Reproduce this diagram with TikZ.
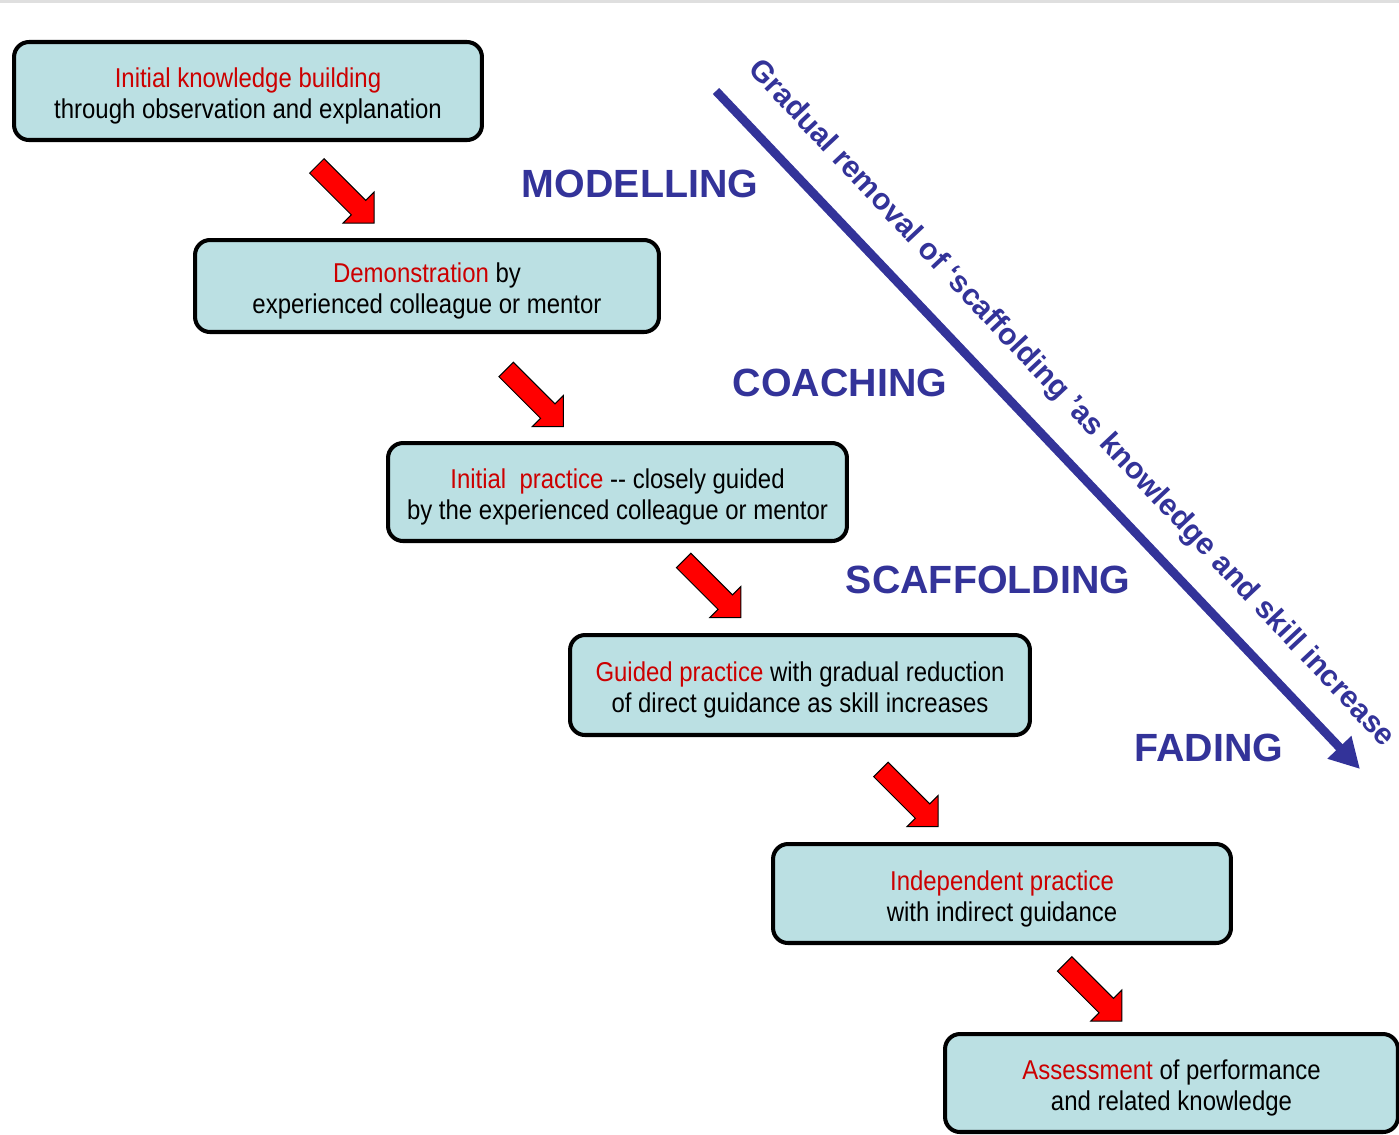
\documentclass[tikz,border=0pt]{standalone}
\usepackage{fontspec}
\setmainfont{Liberation Sans}
\newfontfamily\narrowfont[FakeStretch=0.88]{Liberation Sans}
\usetikzlibrary{arrows.meta, calc}

\definecolor{boxcyan}{HTML}{BBE0E3}
\definecolor{phaseblue}{HTML}{333399}
\definecolor{keyred}{HTML}{CC0000}

\newcommand{\stagegap}{\rule{0pt}{17pt}}

\tikzset{
	pics/steparrow/.style={code={
			\draw[black, line width=0.6pt, fill=red, rotate=-45]
			(-0.81cm,0.205cm) -- (0.37cm,0.205cm) -- (0.37cm,0.44cm) -- (0.81cm,0cm)
			-- (0.37cm,-0.44cm) -- (0.37cm,-0.205cm) -- (-0.81cm,-0.205cm) -- cycle;
	}}
}

\begin{document}
\begin{tikzpicture}[
		x=0.02cm, y=-0.02cm, % pixel-like grid, y pointing down
		stage/.style={draw=black, line width=2.3pt, rounded corners=0.3cm,
			fill=boxcyan, align=center, inner sep=0pt,
			font=\narrowfont\fontsize{15.5}{17.6}\selectfont},
		phase/.style={text=phaseblue, font=\bfseries\fontsize{22.4}{26}\selectfont}
		]
		
		% --- 1. Page frame ---
		\useasboundingbox (0,0) rectangle (1399,1134);
		\draw[gray!25, line width=1.2pt] (0,1.5) -- (1399,1.5);
		
		% --- 2. The six stages ---
		\node[stage, minimum width=9.36cm, minimum height=1.96cm] (b1) at (248,91)
		{\stagegap\textcolor{keyred}{Initial knowledge building}\\through observation and explanation};
		\node[stage, minimum width=9.28cm, minimum height=1.84cm] (b2) at (427,286)
		{\stagegap\textcolor{keyred}{Demonstration} by\\experienced colleague or mentor};
		\node[stage, minimum width=9.18cm, minimum height=1.96cm] (b3) at (617.5,492)
		{\stagegap\textcolor{keyred}{Initial\ \ practice} -{}- closely guided\\by the experienced colleague or mentor};
		\node[stage, minimum width=9.2cm, minimum height=2.0cm] (b4) at (800,685)
		{\stagegap\textcolor{keyred}{Guided practice} with gradual reduction\\of direct guidance as skill increases};
		\node[stage, minimum width=9.16cm, minimum height=1.98cm] (b5) at (1002,893.5)
		{\stagegap\textcolor{keyred}{Independent practice}\\with indirect guidance};
		\node[stage, minimum width=9.06cm, minimum height=1.96cm] (b6) at (1171.5,1083)
		{\stagegap\textcolor{keyred}{Assessment} of performance\\and related knowledge};
		
		% --- 3. Red step arrows between the stages ---
		\foreach \a/\b/\dx/\dy in {b1/b2/8/4.5, b2/b3/12.5/10.5, b3/b4/3.5/1, b4/b5/8.5/8.5, b5/b6/6.5/4} {
			\pic (arr-\a) at ($(\a.south)!0.5!(\b.north)+(\dx,\dy)$) {steparrow};
		}
		
		% --- 4. Phase names ---
		\node[phase] (modelling) at (640,184) {MODELLING};
		\node[phase] (coaching) at (840,383) {COACHING};
		\node[phase] (scaffolding) at (988,580) {SCAFFOLDING};
		\node[phase] (fading) at (1209,748) {FADING};
		
		% --- 5. Removal of scaffolding ---
		\coordinate (gstart) at (716,91);
		\coordinate (gend) at (1360,769);
		\draw[phaseblue, line width=5pt, -{Triangle[length=0.6cm, width=0.62cm]}] (gstart) -- (gend);
		\node[text=phaseblue, font=\bfseries\fontsize{17.2}{20}\selectfont, rotate=-46.8] (gradual) at (1071,404)
		{Gradual removal of ‘scaffolding ’as knowledge and skill increase};
		
	\end{tikzpicture}
\end{document}
